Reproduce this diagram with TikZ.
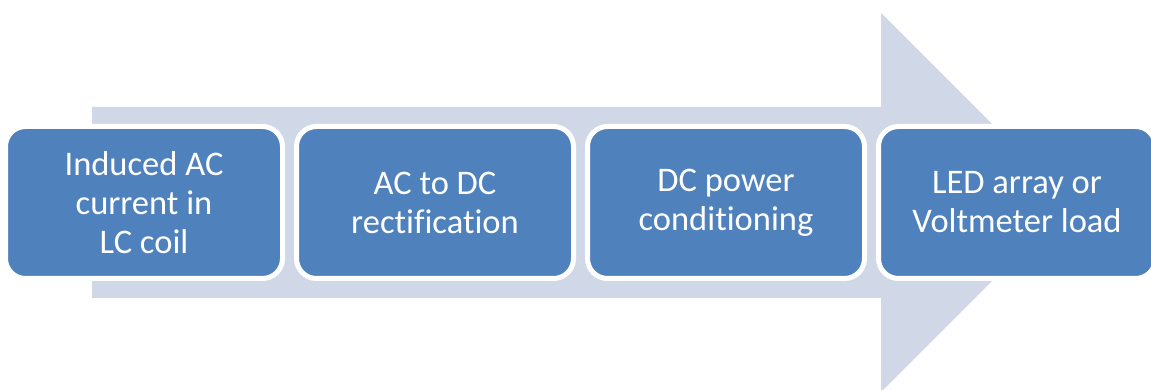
\documentclass[tikz,border=0pt]{standalone}
\usepackage{fontspec}
\setmainfont{Carlito}[Ligatures=NoCommon]
\usetikzlibrary{positioning}
\definecolor{arrowfill}{RGB}{208,216,232}
\definecolor{stagefill}{RGB}{79,129,189}
\tikzset{
  node distance=291pt,
  stage/.style={draw=white, line width=5pt, fill=stagefill, rounded corners=20pt,
    minimum width=277pt, minimum height=152pt, align=center, text=white,
    font=\fontsize{34.5}{39}\selectfont},
}

\begin{document}
\begin{tikzpicture}[x=1pt, y=1pt]
			      \useasboundingbox (0,0) rectangle (1151,390);

			      % arrow
			      \fill[arrowfill] (92,92) -- (92,283) -- (881,283) -- (881,377)
			      -- (1070.5,187.5) -- (881,-2) -- (881,92) -- cycle;

			      % stages
			      \node[stage] (ac) at (144,187.5) {Induced AC\\current in\\LC coil};
			      \node[stage, right of=ac] (rect) {AC to DC\\rectification};
			      \node[stage, right of=rect] (cond) {DC power\\conditioning};
			      \node[stage, right of=cond] (load) {LED array or\\Voltmeter load};

		      \end{tikzpicture}
\end{document}
